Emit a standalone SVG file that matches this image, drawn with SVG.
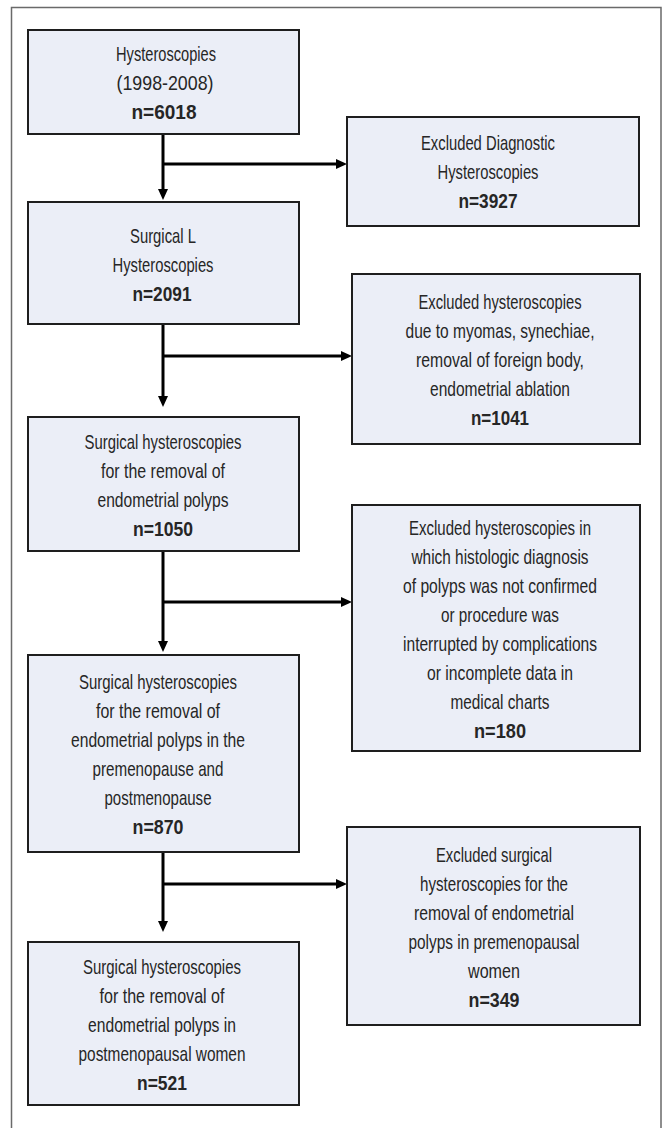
<svg xmlns="http://www.w3.org/2000/svg" width="665" height="1128" viewBox="0 0 665 1128">
<defs>
<style>
.frame{fill:none;stroke:#6a6a6a;stroke-width:1.5}
.box{fill:#ebeef7;stroke:#1e1e1e;stroke-width:2}
.t{font-family:"Liberation Sans",Arial,sans-serif;font-size:21px;fill:#262626;text-anchor:middle}
.n{font-weight:bold}
.c{fill:none;stroke:#000;stroke-width:3}
</style>
<marker id="ah" markerUnits="userSpaceOnUse" markerWidth="11" markerHeight="10" refX="5" refY="5" orient="auto">
<path d="M0,0 L11,5 L0,10 Z" fill="#000"/>
</marker>
</defs>
<rect width="665" height="1128" fill="#fff"/>
<path class="frame" d="M11.5,1140 V7.5 H661 V1140"/>

<g id="connectors">
<path class="c" d="M163,134 V194" marker-end="url(#ah)"/>
<path class="c" d="M163,164 H341" marker-end="url(#ah)"/>
<path class="c" d="M163,324 V401" marker-end="url(#ah)"/>
<path class="c" d="M163,356 H346" marker-end="url(#ah)"/>
<path class="c" d="M163,551 V646" marker-end="url(#ah)"/>
<path class="c" d="M163,602 H346" marker-end="url(#ah)"/>
<path class="c" d="M163,852 V926" marker-end="url(#ah)"/>
<path class="c" d="M163,884 H341" marker-end="url(#ah)"/>
</g>

<g id="nodeA">
<rect class="box" x="28" y="30" width="271" height="104"/>
<text class="t" x="166" y="60.5" textLength="100" lengthAdjust="spacingAndGlyphs">Hysteroscopies</text>
<text class="t" x="165" y="89.5" textLength="97" lengthAdjust="spacingAndGlyphs">(1998-2008)</text>
<text class="t n" x="164" y="118.5" textLength="65" lengthAdjust="spacingAndGlyphs">n=6018</text>
</g>

<g id="nodeB">
<rect class="box" x="347" y="117" width="292" height="109"/>
<text class="t" x="488" y="150" textLength="134" lengthAdjust="spacingAndGlyphs">Excluded Diagnostic</text>
<text class="t" x="488" y="179" textLength="101" lengthAdjust="spacingAndGlyphs">Hysteroscopies</text>
<text class="t n" x="488" y="208" textLength="59" lengthAdjust="spacingAndGlyphs">n=3927</text>
</g>

<g id="nodeC">
<rect class="box" x="28" y="202" width="271" height="122"/>
<text class="t" x="163" y="243" textLength="66" lengthAdjust="spacingAndGlyphs">Surgical L</text>
<text class="t" x="163" y="272" textLength="101" lengthAdjust="spacingAndGlyphs">Hysteroscopies</text>
<text class="t n" x="162" y="301" textLength="59" lengthAdjust="spacingAndGlyphs">n=2091</text>
</g>

<g id="nodeD">
<rect class="box" x="352" y="274" width="288" height="170"/>
<text class="t" x="500" y="309" textLength="163" lengthAdjust="spacingAndGlyphs">Excluded hysteroscopies</text>
<text class="t" x="500" y="338" textLength="189" lengthAdjust="spacingAndGlyphs">due to myomas, synechiae,</text>
<text class="t" x="500" y="367" textLength="168" lengthAdjust="spacingAndGlyphs">removal of foreign body,</text>
<text class="t" x="500" y="396" textLength="140" lengthAdjust="spacingAndGlyphs">endometrial ablation</text>
<text class="t n" x="500" y="425" textLength="58" lengthAdjust="spacingAndGlyphs">n=1041</text>
</g>

<g id="nodeE">
<rect class="box" x="28" y="417" width="271" height="134"/>
<text class="t" x="163" y="449" textLength="157" lengthAdjust="spacingAndGlyphs">Surgical hysteroscopies</text>
<text class="t" x="163" y="478" textLength="124" lengthAdjust="spacingAndGlyphs">for the removal of</text>
<text class="t" x="163" y="507" textLength="131" lengthAdjust="spacingAndGlyphs">endometrial polyps</text>
<text class="t n" x="163" y="536" textLength="60" lengthAdjust="spacingAndGlyphs">n=1050</text>
</g>

<g id="nodeF">
<rect class="box" x="352" y="505" width="288" height="246"/>
<text class="t" x="500" y="535" textLength="182" lengthAdjust="spacingAndGlyphs">Excluded hysteroscopies in</text>
<text class="t" x="500" y="564" textLength="177" lengthAdjust="spacingAndGlyphs">which histologic diagnosis</text>
<text class="t" x="500" y="593" textLength="194" lengthAdjust="spacingAndGlyphs">of polyps was not confirmed</text>
<text class="t" x="500" y="622" textLength="118" lengthAdjust="spacingAndGlyphs">or procedure was</text>
<text class="t" x="500" y="651" textLength="194" lengthAdjust="spacingAndGlyphs">interrupted by complications</text>
<text class="t" x="500" y="680" textLength="146" lengthAdjust="spacingAndGlyphs">or incomplete data in</text>
<text class="t" x="500" y="709" textLength="99" lengthAdjust="spacingAndGlyphs">medical charts</text>
<text class="t n" x="500" y="738" textLength="52" lengthAdjust="spacingAndGlyphs">n=180</text>
</g>

<g id="nodeG">
<rect class="box" x="28" y="655" width="271" height="197"/>
<text class="t" x="158" y="689" textLength="158" lengthAdjust="spacingAndGlyphs">Surgical hysteroscopies</text>
<text class="t" x="158" y="718" textLength="124" lengthAdjust="spacingAndGlyphs">for the removal of</text>
<text class="t" x="158" y="747" textLength="174" lengthAdjust="spacingAndGlyphs">endometrial polyps in the</text>
<text class="t" x="158" y="776" textLength="131" lengthAdjust="spacingAndGlyphs">premenopause and</text>
<text class="t" x="158" y="805" textLength="107" lengthAdjust="spacingAndGlyphs">postmenopause</text>
<text class="t n" x="158" y="834" textLength="51" lengthAdjust="spacingAndGlyphs">n=870</text>
</g>

<g id="nodeH">
<rect class="box" x="347" y="827" width="293" height="198"/>
<text class="t" x="494" y="862" textLength="116" lengthAdjust="spacingAndGlyphs">Excluded surgical</text>
<text class="t" x="494" y="891" textLength="148" lengthAdjust="spacingAndGlyphs">hysteroscopies for the</text>
<text class="t" x="494" y="920" textLength="160" lengthAdjust="spacingAndGlyphs">removal of endometrial</text>
<text class="t" x="494" y="949" textLength="171" lengthAdjust="spacingAndGlyphs">polyps in premenopausal</text>
<text class="t" x="494" y="978" textLength="52" lengthAdjust="spacingAndGlyphs">women</text>
<text class="t n" x="494" y="1007" textLength="51" lengthAdjust="spacingAndGlyphs">n=349</text>
</g>

<g id="nodeI">
<rect class="box" x="28" y="942" width="271" height="163"/>
<text class="t" x="162" y="974" textLength="158" lengthAdjust="spacingAndGlyphs">Surgical hysteroscopies</text>
<text class="t" x="162" y="1003" textLength="125" lengthAdjust="spacingAndGlyphs">for the removal of</text>
<text class="t" x="162" y="1032" textLength="148" lengthAdjust="spacingAndGlyphs">endometrial polyps in</text>
<text class="t" x="162" y="1061" textLength="167" lengthAdjust="spacingAndGlyphs">postmenopausal women</text>
<text class="t n" x="162" y="1090" textLength="50" lengthAdjust="spacingAndGlyphs">n=521</text>
</g>
</svg>
